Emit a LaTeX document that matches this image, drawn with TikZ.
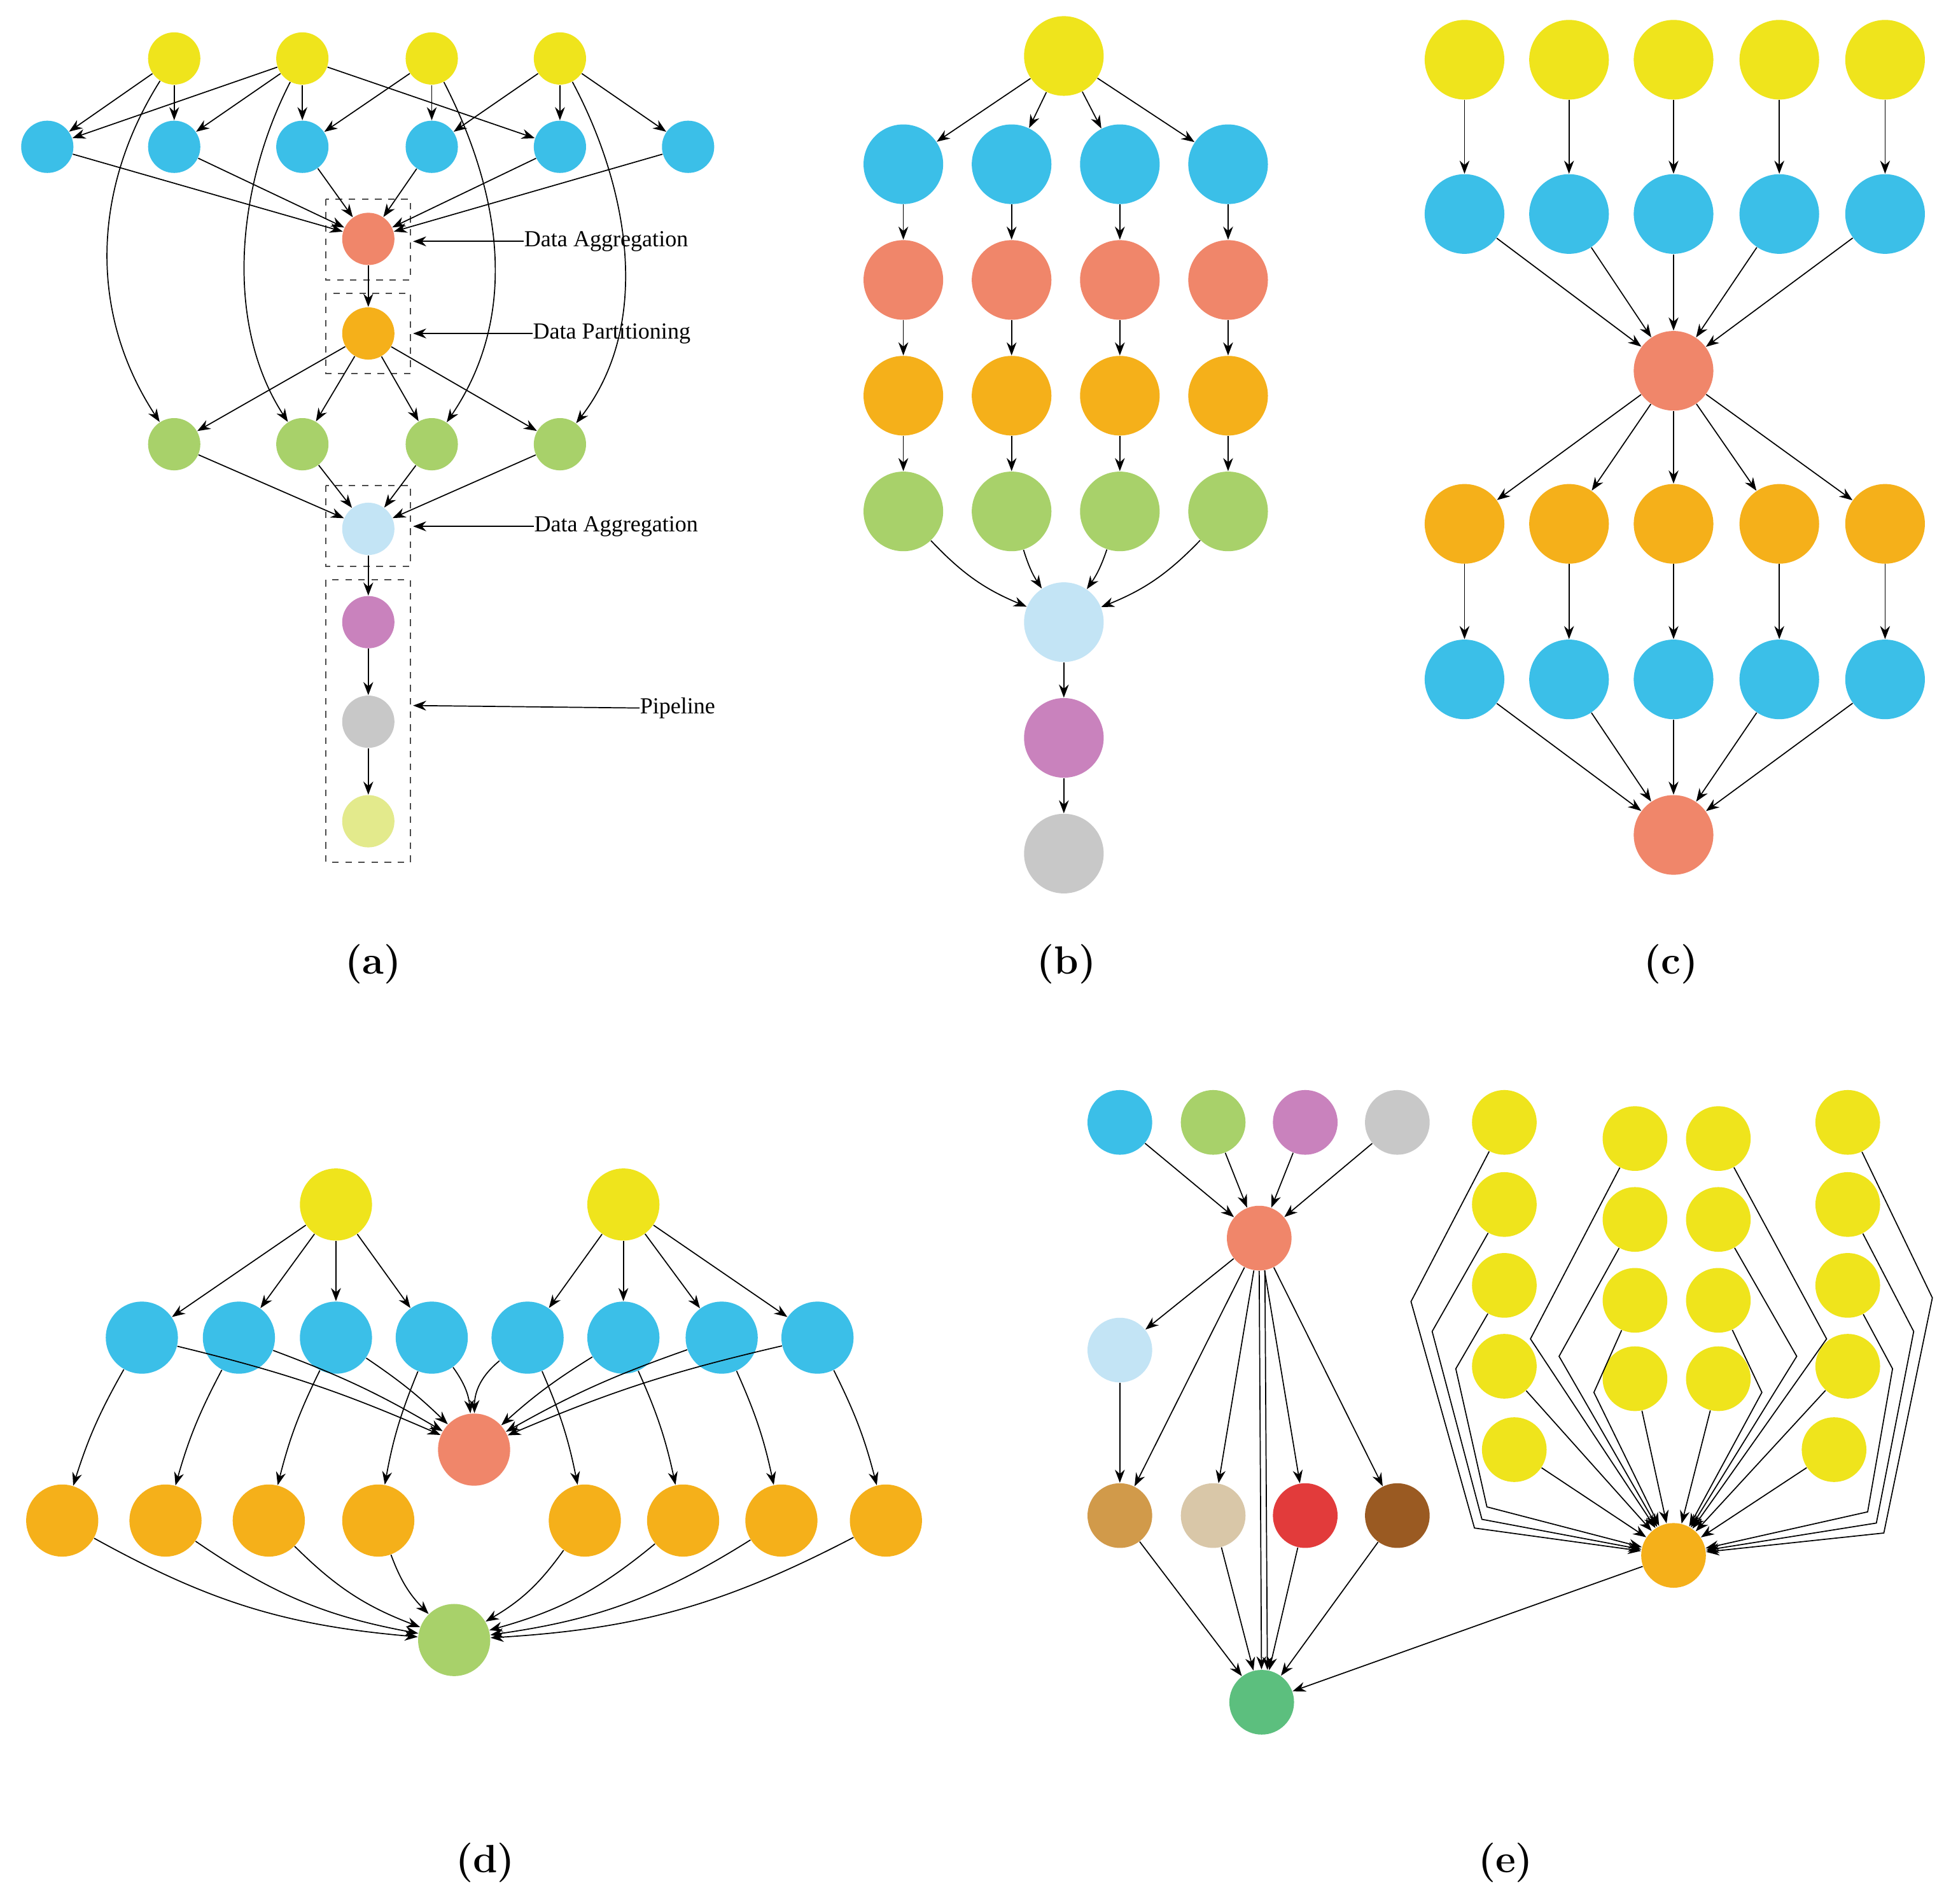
\documentclass[tikz,border=0pt]{standalone}
\usepackage{fontspec}
\newfontfamily\lab{Liberation Serif}
\usetikzlibrary{arrows.meta}
\definecolor{cY}{HTML}{EFE41C}
\definecolor{cB}{HTML}{3BBFE8}
\definecolor{cS}{HTML}{F0866A}
\definecolor{cO}{HTML}{F5B01A}
\definecolor{cG}{HTML}{A8D16A}
\definecolor{cLB}{HTML}{C3E4F5}
\definecolor{cP}{HTML}{C982BD}
\definecolor{cGr}{HTML}{C8C8C8}
\definecolor{cLY}{HTML}{E3EA8C}
\definecolor{cT}{HTML}{5CBF7E}
\definecolor{cTan}{HTML}{D19A4A}
\definecolor{cBe}{HTML}{D9C7A8}
\definecolor{cR}{HTML}{E23B3B}
\definecolor{cBr}{HTML}{9A5A22}
\tikzset{
 dot/.style={circle,inner sep=0pt,draw=none,fill=#1},
 ra/.style={minimum size=0.84cm},
 rb/.style={minimum size=1.28cm},
 rd/.style={minimum size=1.16cm},
 re/.style={minimum size=1.04cm},
 ed/.style={-{Stealth[length=6pt,width=4.5pt]},line width=0.5pt},
 box/.style={draw=black!70,dashed,line width=0.6pt},
 ann/.style={font=\lab\fontsize{10.5}{12}\selectfont,anchor=west,inner sep=0pt},
 figcap/.style={font=\bfseries\fontsize{18}{21}\selectfont}
}
\begin{document}
\begin{tikzpicture}[x=0.02cm,y=-0.02cm]
\useasboundingbox[fill=white] (0,0) rectangle (1568,1530);
% ---------- (a)
\foreach \x [count=\i] in {140,243,347,450} \node[dot=cY,ra] (ay\i) at (\x,47) {};
\foreach \x [count=\i] in {38,140,243,347,450,553} \node[dot=cB,ra] (ab\i) at (\x,118) {};
\node[dot=cS,ra] (as) at (296,192) {};
\node[dot=cO,ra] (ao) at (296,268) {};
\foreach \x [count=\i] in {140,243,347,450} \node[dot=cG,ra] (ag\i) at (\x,357) {};
\node[dot=cLB,ra] (alb) at (296,425) {};
\node[dot=cP,ra] (ap) at (296,500) {};
\node[dot=cGr,ra] (agr) at (296,580) {};
\node[dot=cLY,ra] (aly) at (296,660) {};
\draw[box] (262,160) rectangle (330,225);
\draw[box] (262,236) rectangle (330,300);
\draw[box] (262,390) rectangle (330,455);
\draw[box] (262,466) rectangle (330,693);
\foreach \a/\b in {ay1/ab1,ay1/ab2,ay2/ab1,ay2/ab2,ay2/ab3,ay2/ab5,ay3/ab3,ay3/ab4,ay4/ab4,ay4/ab5,ay4/ab6} \draw[ed] (\a)--(\b);
\foreach \i in {1,...,6} \draw[ed] (ab\i)--(as);
\draw[ed] (as)--(ao);
\foreach \i in {1,...,4} {\draw[ed] (ao)--(ag\i); \draw[ed] (ag\i)--(alb);}
\draw[ed] (alb)--(ap); \draw[ed] (ap)--(agr); \draw[ed] (agr)--(aly);
\draw[ed] (ay1) .. controls (75,150) and (70,250) .. (ag1);
\draw[ed] (ay2) .. controls (190,150) and (180,260) .. (ag2);
\draw[ed] (ay3) .. controls (400,150) and (420,250) .. (ag3);
\draw[ed] (ay4) .. controls (505,150) and (525,260) .. (ag4);
\node[ann] (t1) at (421,194) {Data Aggregation};
\node[ann] (t2) at (428,268) {Data Partitioning};
\node[ann] (t3) at (429,423) {Data Aggregation};
\node[ann] (t4) at (514,569) {Pipeline};
\draw[ed] (t1.west)--(332,194);
\draw[ed] (t2.west)--(332,268);
\draw[ed] (t3.west)--(332,423);
\draw[ed] (t4.west)--(332,567);
\node[figcap] (la) at (300,775) {(a)};
% ---------- (b)
\node[dot=cY,rb] (by) at (855,45) {};
\foreach \x [count=\i] in {726,813,900,987} {
 \node[dot=cB,rb] (bb\i) at (\x,132) {};
 \node[dot=cS,rb] (bs\i) at (\x,225) {};
 \node[dot=cO,rb] (bo\i) at (\x,318) {};
 \node[dot=cG,rb] (bg\i) at (\x,411) {};
 \draw[ed] (by)--(bb\i); \draw[ed] (bb\i)--(bs\i); \draw[ed] (bs\i)--(bo\i); \draw[ed] (bo\i)--(bg\i);}
\node[dot=cLB,rb] (blb) at (855,500) {};
\node[dot=cP,rb] (bp) at (855,593) {};
\node[dot=cGr,rb] (bgr) at (855,686) {};
\draw[ed] (bg1) to[bend right=12] (blb);
\draw[ed] (bg2) to[bend right=8] (blb);
\draw[ed] (bg3) to[bend left=8] (blb);
\draw[ed] (bg4) to[bend left=12] (blb);
\draw[ed] (blb)--(bp); \draw[ed] (bp)--(bgr);
\node[figcap] (lb) at (857,775) {(b)};
% ---------- (c)
\node[dot=cS,rb] (cs1) at (1345,298) {};
\node[dot=cS,rb] (cs2) at (1345,671) {};
\foreach \x [count=\i] in {1177,1261,1345,1430,1515} {
 \node[dot=cY,rb] (cy\i) at (\x,48) {};
 \node[dot=cB,rb] (cb\i) at (\x,172) {};
 \node[dot=cO,rb] (co\i) at (\x,421) {};
 \node[dot=cB,rb] (cc\i) at (\x,546) {};
 \draw[ed] (cy\i)--(cb\i); \draw[ed] (cb\i)--(cs1); \draw[ed] (cs1)--(co\i);
 \draw[ed] (co\i)--(cc\i); \draw[ed] (cc\i)--(cs2);}
\node[figcap] (lc) at (1343,775) {(c)};
% ---------- (d)
\node[dot=cY,rd] (dy1) at (270,968) {};
\node[dot=cY,rd] (dy2) at (501,968) {};
\node[dot=cS,rd] (ds) at (381,1165) {};
\node[dot=cG,rd] (dg) at (365,1318) {};
\foreach \x [count=\i] in {114,192,270,347,424,501,580,657} \node[dot=cB,rd] (db\i) at (\x,1075) {};
\foreach \x [count=\i] in {50,133,216,304,470,549,628,712} \node[dot=cO,rd] (do\i) at (\x,1222) {};
\foreach \i in {1,...,4} \draw[ed] (dy1)--(db\i);
\foreach \i in {5,...,8} \draw[ed] (dy2)--(db\i);
\foreach \i in {1,2,3} \draw[ed] (db\i) to[bend left=5] (ds);
\draw[ed] (db4) to[bend left=15] (ds);
\draw[ed] (db5) to[bend right=25] (ds);
\foreach \i in {6,7,8} \draw[ed] (db\i) to[bend right=5] (ds);
\foreach \i in {1,...,4} \draw[ed] (db\i) to[bend right=6] (do\i);
\foreach \i in {5,...,8} \draw[ed] (db\i) to[bend left=6] (do\i);
\foreach \i in {1,...,4} \draw[ed] (do\i) to[bend right=12] (dg);
\foreach \i in {5,...,8} \draw[ed] (do\i) to[bend left=12] (dg);
\node[figcap] (ld) at (390,1497) {(d)};
% ---------- (e)
\node[dot=cB,re] (et1) at (900,902) {};
\node[dot=cG,re] (et2) at (975,902) {};
\node[dot=cP,re] (et3) at (1049,902) {};
\node[dot=cGr,re] (et4) at (1123,902) {};
\node[dot=cS,re] (es) at (1012,995) {};
\node[dot=cLB,re] (elb) at (900,1085) {};
\node[dot=cTan,re] (eb1) at (900,1218) {};
\node[dot=cBe,re] (eb2) at (975,1218) {};
\node[dot=cR,re] (eb3) at (1049,1218) {};
\node[dot=cBr,re] (eb4) at (1123,1218) {};
\node[dot=cT,re] (et) at (1014,1368) {};
\node[dot=cO,re] (eo) at (1345,1250) {};
\foreach \i in {1,...,4} {\draw[ed] (et\i)--(es); \draw[ed] (eb\i)--(et);}
\foreach \i in {2,3,4} \draw[ed] (es)--(eb\i);
\draw[ed] (es)--(eb1);
\draw[ed] (es)--(elb); \draw[ed] (elb)--(eb1);
\draw[ed] (es.south)--(et); \draw[ed] (es.-80)--(et.80);
\draw[ed] (eo)--(et);
% yellow columns
\foreach \y [count=\i] in {902,968,1033,1098} {\node[dot=cY,re] (ea\i) at (1209,\y) {}; \node[dot=cY,re] (ed\i) at (1485,\y) {};}
\node[dot=cY,re] (ea5) at (1217,1165) {};
\node[dot=cY,re] (ed5) at (1474,1165) {};
\foreach \y [count=\i] in {915,980,1045,1108} {\node[dot=cY,re] (ey\i) at (1314,\y) {}; \node[dot=cY,re] (ec\i) at (1381,\y) {};}
\draw[ed] (ea1)--(1134,1046)--(1185,1228)--(eo);
\draw[ed] (ea2)--(1151,1070)--(1191,1221)--(eo);
\draw[ed] (ea3)--(1170,1100)--(1195,1211)--(eo);
\draw[ed] (ea4)--(eo); \draw[ed] (ea5)--(eo);
\draw[ed] (ed1)--(1553,1043)--(1514,1232)--(eo);
\draw[ed] (ed2)--(1538,1070)--(1508,1224)--(eo);
\draw[ed] (ed3)--(1521,1100)--(1501,1215)--(eo);
\draw[ed] (ed4)--(eo); \draw[ed] (ed5)--(eo);
\draw[ed] (ey1)--(1230,1076)--(eo);
\draw[ed] (ey2)--(1253,1090)--(eo);
\draw[ed] (ey3)--(1281,1119)--(eo);
\draw[ed] (ey4)--(eo);
\draw[ed] (ec1)--(1468,1076)--(eo);
\draw[ed] (ec2)--(1444,1090)--(eo);
\draw[ed] (ec3)--(1416,1119)--(eo);
\draw[ed] (ec4)--(eo);
\node[figcap] (le) at (1210,1497) {(e)};
\end{tikzpicture}
\end{document}
